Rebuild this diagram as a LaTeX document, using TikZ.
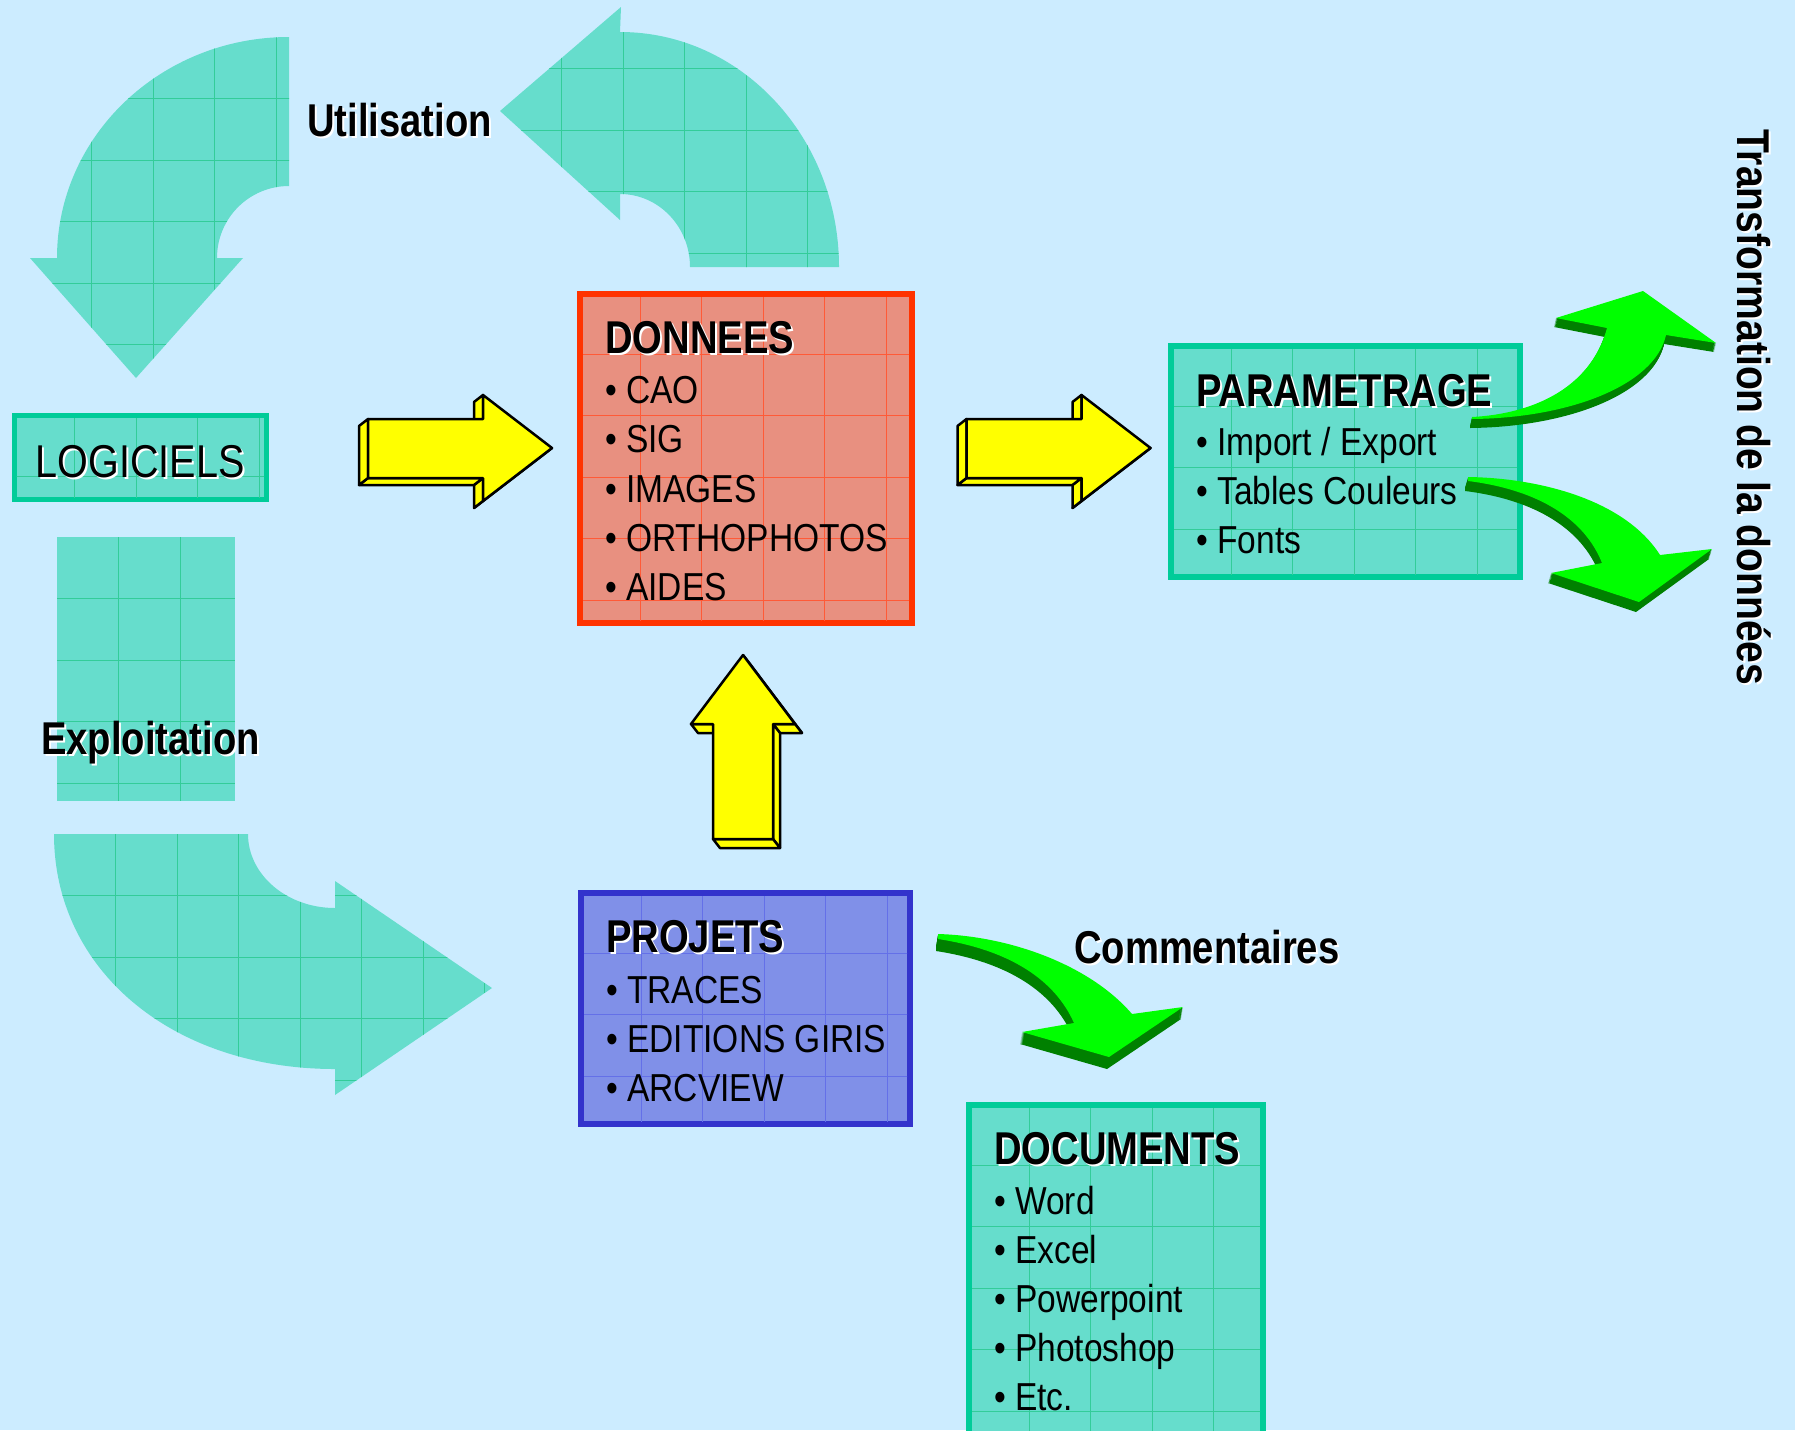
\documentclass[tikz,border=0pt]{standalone}
\usepackage{fontspec}
\usetikzlibrary{calc}
\newfontfamily\regf{Liberation Sans}[FakeStretch=0.86]
\newfontfamily\boldf{Liberation Sans}[FakeStretch=0.83]
\newfontfamily\boldv{Liberation Sans}[FakeStretch=0.85]
\definecolor{bg}{RGB}{204,236,255}
\definecolor{tealF}{RGB}{102,221,204}
\definecolor{tealG}{RGB}{51,204,153}
\definecolor{tealB}{RGB}{0,204,153}
\definecolor{redF}{RGB}{232,144,128}
\definecolor{redG}{RGB}{255,90,55}
\definecolor{redB}{RGB}{255,51,0}
\definecolor{blueF}{RGB}{128,144,232}
\definecolor{blueG}{RGB}{100,112,232}
\definecolor{blueB}{RGB}{51,51,204}
\definecolor{glight}{RGB}{0,255,0}
\definecolor{gdark}{RGB}{0,128,0}
\definecolor{yel}{RGB}{255,255,0}
\newcommand{\gridlines}[5]{%
  \foreach \k in {1,...,8}{%
    \pgfmathsetmacro\gx{#2+61.5*\k}%
    \pgfmathsetmacro\gy{#3+61.5*\k}%
    \draw[#1, line width=1pt] (\gx,#3) -- (\gx,#5);%
    \draw[#1, line width=1pt] (#2,\gy) -- (#4,\gy);%
  }}
\newcommand{\greenarrow}[3]{%
  \foreach \s in {1,...,12}{\fill[gdark, shift={({#2*\s/12},{#3*\s/12})}] #1;}%
  \fill[glight] #1;}
\newcommand{\titletext}[3]{%
  \node[titletxt, text=white] (#1s) at ($#2+(2,2)$) {#3};%
  \node[titletxt] (#1) at #2 {#3};}
\tikzset{
  titletxt/.style={anchor=base west, inner sep=0pt, font=\boldf\bfseries\fontsize{46}{50}\selectfont},
  verttxt/.style={anchor=base west, inner sep=0pt, rotate=-90, font=\boldv\bfseries\fontsize{46}{50}\selectfont},
  itemtxt/.style={anchor=base west, inner sep=0pt, font=\regf\fontsize{39}{44}\selectfont},
  boxnode/.style={inner sep=0pt, outer sep=0pt},
  yarrow/.style={fill=yel, draw=black, line width=2.5pt, line join=round},
}
\begin{document}
\begin{tikzpicture}[x=1pt, y=-1pt]
\useasboundingbox (0,0) rectangle (1795,1430);
\clip (0,0) rectangle (1795,1430);
\fill[bg] (0,0) rectangle (1795,1430);

% ---- teal curved arrows ----
\begin{scope}
  \clip (289,37) -- (289,186) .. controls (249.2,186) and (217,218.2) .. (217,258) -- (243,258) -- (136,378) -- (30,258) -- (57,258) .. controls (57,135.9) and (160.9,37) .. (289,37) -- cycle;
  \fill[tealF] (20,0) rectangle (300,400);
  \gridlines{tealG}{30}{37}{300}{400}
\end{scope}
\begin{scope}
  \clip (690,267) -- (839,267) .. controls (839,137.2) and (741,32) .. (620,32) -- (621,7) -- (500,111) -- (620,220) -- (620,194) .. controls (658.7,194) and (690,226.7) .. (690,267) -- cycle;
  \fill[tealF] (490,0) rectangle (850,280);
  \gridlines{tealG}{500}{7}{850}{280}
\end{scope}
\begin{scope}
  \clip (54,834) -- (248,834) .. controls (248,874.9) and (287,908) .. (335,908) -- (335,881) -- (492,988) -- (335,1095) -- (335,1069) .. controls (172,1069) and (54,970) .. (54,834) -- cycle;
  \fill[tealF] (40,820) rectangle (500,1100);
  \gridlines{tealG}{54}{834}{500}{1100}
\end{scope}
\begin{scope}
  \clip (57,537) rectangle (235,801);
  \fill[tealF] (57,537) rectangle (235,801);
  \gridlines{tealG}{57}{537}{235}{801}
\end{scope}

% ---- boxes ----
\node[boxnode, fill=tealF, draw=tealB, line width=5pt, minimum width=252.5pt, minimum height=84pt] (logiciels) at (140.25,457.5) {};
\begin{scope}\clip (16.5,418) rectangle (264,497); \gridlines{tealG}{13}{414.5}{270}{503}\end{scope}

\node[boxnode, fill=redF, draw=redB, line width=6pt, minimum width=332pt, minimum height=329pt] (donnees) at (746,458.5) {};
\begin{scope}\clip (583,297) rectangle (909,620); \gridlines{redG}{578.5}{292.5}{915}{626}\end{scope}

\node[boxnode, fill=tealF, draw=tealB, line width=6pt, minimum width=349pt, minimum height=231pt] (param) at (1345.5,461.5) {};
\begin{scope}\clip (1174,349) rectangle (1517,574); \gridlines{tealG}{1169.5}{344.5}{1523}{580}\end{scope}

\node[boxnode, fill=blueF, draw=blueB, line width=6pt, minimum width=329pt, minimum height=231pt] (projets) at (745.5,1008.5) {};
\begin{scope}\clip (584,896) rectangle (907,1121); \gridlines{blueG}{579.5}{891.5}{913}{1127}\end{scope}

\node[boxnode, fill=tealF, draw=tealB, line width=6pt, minimum width=294pt, minimum height=342pt] (documents) at (1116,1276) {};
\begin{scope}\clip (972,1108) rectangle (1260,1444); \gridlines{tealG}{967.5}{1103.5}{1266}{1450}\end{scope}

% ---- yellow 3D arrows ----
\coordinate (da) at (-9,7);
\coordinate (a1) at (368,419); \coordinate (a2) at (483,419); \coordinate (a3) at (483,395);
\coordinate (a4) at (552,448); \coordinate (a5) at (483,501); \coordinate (a6) at (483,478);
\coordinate (a7) at (368,478);
\foreach \i/\j in {2/3,4/5,5/6,6/7,7/1}
  \filldraw[yarrow] (a\i) -- (a\j) -- ($(a\j)+(da)$) -- ($(a\i)+(da)$) -- cycle;
\filldraw[yarrow] (a1) -- (a2) -- (a3) -- (a4) -- (a5) -- (a6) -- (a7) -- cycle;

\coordinate (b1) at (966.5,419); \coordinate (b2) at (1081.5,419); \coordinate (b3) at (1081.5,395);
\coordinate (b4) at (1150.5,448); \coordinate (b5) at (1081.5,501); \coordinate (b6) at (1081.5,478);
\coordinate (b7) at (966.5,478);
\foreach \i/\j in {2/3,4/5,5/6,6/7,7/1}
  \filldraw[yarrow] (b\i) -- (b\j) -- ($(b\j)+(da)$) -- ($(b\i)+(da)$) -- cycle;
\filldraw[yarrow] (b1) -- (b2) -- (b3) -- (b4) -- (b5) -- (b6) -- (b7) -- cycle;

\coordinate (du) at (7,9);
\coordinate (u1) at (743,655); \coordinate (u2) at (795,724); \coordinate (u3) at (773,724);
\coordinate (u4) at (773,839); \coordinate (u5) at (713,839); \coordinate (u6) at (713,724);
\coordinate (u7) at (691,724);
\foreach \i/\j in {1/2,2/3,3/4,4/5,6/7}
  \filldraw[yarrow] (u\i) -- (u\j) -- ($(u\j)+(du)$) -- ($(u\i)+(du)$) -- cycle;
\filldraw[yarrow] (u1) -- (u2) -- (u3) -- (u4) -- (u5) -- (u6) -- (u7) -- cycle;

% ---- green curved 3D arrows ----
\greenarrow{(1472,417) .. controls (1530,414) and (1590,390) .. (1607,328) -- (1556,318) -- (1643,291) -- (1716,343) -- (1666,335) .. controls (1655,385) and (1570,418) .. (1472,419) -- cycle}{-2}{9}
\greenarrow{(1468,477) .. controls (1540,478) and (1625,500) .. (1660,555) -- (1712,549) -- (1639,602) -- (1551,573) -- (1602,563) .. controls (1585,520) and (1540,490) .. (1468,481) -- cycle}{-3}{10}
\greenarrow{(938,934) .. controls (1010,936) and (1090,965) .. (1132,1014) -- (1183,1007) -- (1109,1057) -- (1022,1032) -- (1074,1023) .. controls (1055,980) and (1010,950) .. (938,939) -- cycle}{-2}{12}

% ---- texts ----
\node[anchor=base, inner sep=0pt, text=white, font=\regf\fontsize{46}{50}\selectfont] (logtxts) at (142,479) {LOGICIELS};
\node[anchor=base, inner sep=0pt, font=\regf\fontsize{46}{50}\selectfont] (logtxt) at (140,477) {LOGICIELS};

\titletext{dtitle}{(605,353)}{DONNEES}
\node[itemtxt] (d1) at (605,403) {• CAO};
\node[itemtxt] (d2) at (605,452.5) {• SIG};
\node[itemtxt] (d3) at (605,502) {• IMAGES};
\node[itemtxt] (d4) at (605,551) {• ORTHOPHOTOS};
\node[itemtxt] (d5) at (605,600) {• AIDES};

\titletext{ptitle}{(1196,406)}{PARAMETRAGE}
\node[itemtxt] (p1) at (1196,455) {• Import / Export};
\node[itemtxt] (p2) at (1196,504) {• Tables Couleurs};
\node[itemtxt] (p3) at (1196,553) {• Fonts};

\titletext{jtitle}{(606,952)}{PROJETS}
\node[itemtxt] (j1) at (606,1003) {• TRACES};
\node[itemtxt] (j2) at (606,1052) {• EDITIONS GIRIS};
\node[itemtxt] (j3) at (606,1101) {• ARCVIEW};

\titletext{ctitle}{(994,1164)}{DOCUMENTS}
\node[itemtxt] (c1) at (994,1214.5) {• Word};
\node[itemtxt] (c2) at (994,1263) {• Excel};
\node[itemtxt] (c3) at (994,1312) {• Powerpoint};
\node[itemtxt] (c4) at (994,1361) {• Photoshop};
\node[itemtxt] (c5) at (994,1410) {• Etc.};

\titletext{util}{(307,136)}{Utilisation}
\titletext{explo}{(41,754)}{Exploitation}
\titletext{comm}{(1074,963)}{Commentaires}
\node[verttxt, text=white] (transs) at (1739,131) {Transformation de la données};
\node[verttxt] (trans) at (1737,129) {Transformation de la données};
\end{tikzpicture}
\end{document}
